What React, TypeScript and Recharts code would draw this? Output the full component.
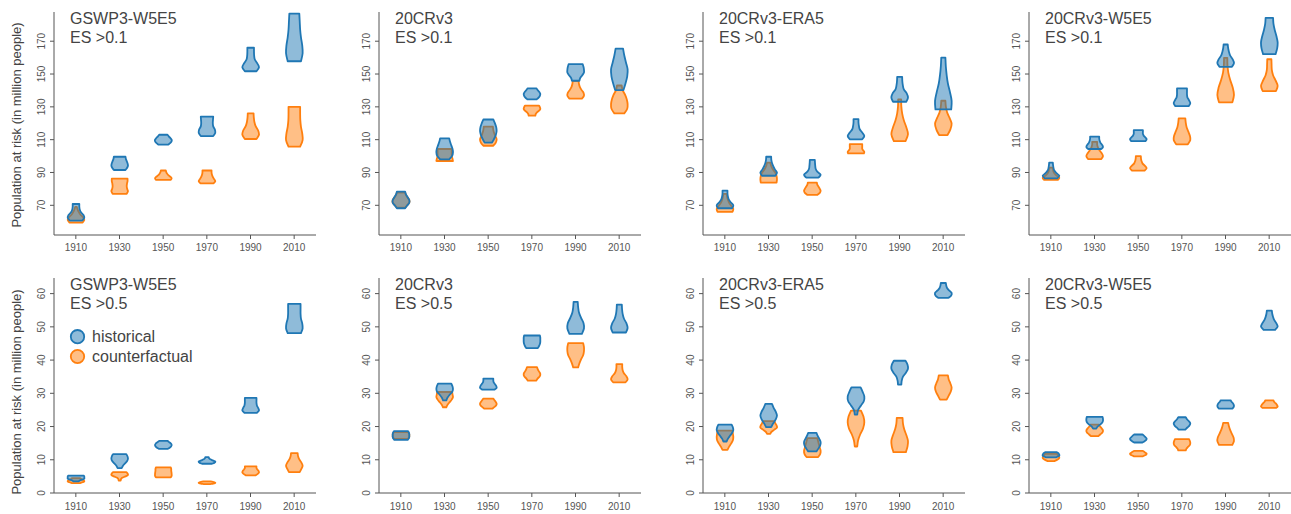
import React from 'react';
import { ComposedChart, Bar, XAxis, YAxis } from 'recharts';

const years = ['1910', '1930', '1950', '1970', '1990', '2010'];
const ticksEs01 = [70, 90, 110, 130, 150, 170];
const ticksEs05 = [0, 10, 20, 30, 40, 50, 60];
const domainEs01: [number, number] = [51.9, 187.8];
const domainEs05: [number, number] = [0, 64.7];
const datasetNames = ['GSWP3-W5E5', '20CRv3', '20CRv3-ERA5', '20CRv3-W5E5'];
const thresholdLabels = ['ES >0.1', 'ES >0.5'];
const legendLabels = ['historical', 'counterfactual'];
const yAxisTitle = 'Population at risk (in million people)';

// each violin: [min, max, relative half-widths from min up to max]
const gswp3Es01Hist = [
  [60.7, 70.8, 0.75, 1.0, 0.9, 0.6, 0.45, 0.4, 0.4],
  [91.5, 99.6, 0.7, 0.9, 1.0, 0.95, 0.85, 0.75, 0.7],
  [107, 113, 0.6, 0.85, 1.0, 1.0, 0.85, 0.65, 0.5],
  [112.2, 124, 0.75, 1.0, 0.95, 0.75, 0.7, 0.72, 0.75],
  [151.7, 166, 0.7, 1.0, 0.8, 0.5, 0.42, 0.4, 0.4],
  [157.8, 186.8, 0.8, 1.0, 0.95, 0.8, 0.7, 0.65, 0.6],
];
const gswp3Es01Cf = [
  [59.5, 69, 0.8, 1.0, 0.85, 0.55, 0.35, 0.2, 0.1],
  [77, 86.2, 0.85, 1.0, 0.9, 0.85, 0.88, 0.95, 0.95],
  [85.5, 91.2, 0.9, 1.0, 0.85, 0.6, 0.45, 0.35, 0.3],
  [83.4, 91.2, 0.8, 1.0, 0.85, 0.7, 0.6, 0.55, 0.55],
  [110.4, 126, 0.7, 1.0, 0.9, 0.6, 0.45, 0.38, 0.35],
  [105.7, 130, 0.7, 1.0, 0.95, 0.8, 0.72, 0.7, 0.7],
];
const cr3Es01Hist = [
  [68.2, 78.3, 0.5, 0.75, 1.0, 1.0, 0.8, 0.6, 0.5],
  [98, 110.8, 0.55, 0.9, 1.0, 0.95, 0.8, 0.65, 0.55],
  [108.2, 122.3, 0.45, 0.7, 0.9, 1.0, 0.95, 0.8, 0.6],
  [134.5, 141.2, 0.55, 0.8, 0.95, 1.0, 0.9, 0.7, 0.55],
  [145.9, 156, 0.45, 0.55, 0.8, 1.0, 1.0, 0.95, 0.85],
  [140.2, 165.5, 0.5, 0.75, 0.95, 1.0, 0.8, 0.6, 0.45],
];
const cr3Es01Cf = [
  [68.6, 77.8, 0.5, 0.75, 1.0, 1.0, 0.8, 0.6, 0.5],
  [97, 104.3, 1.0, 0.95, 0.88, 0.85, 0.85, 0.85, 0.85],
  [106.3, 117.9, 0.6, 0.9, 1.0, 0.85, 0.7, 0.6, 0.55],
  [124.6, 130.8, 0.4, 0.45, 0.6, 0.85, 1.0, 0.95, 0.85],
  [135, 145.7, 0.75, 1.0, 0.95, 0.7, 0.5, 0.4, 0.35],
  [126, 143, 0.6, 0.95, 1.0, 0.9, 0.7, 0.4, 0.28],
];
const era5Es01Hist = [
  [68.2, 78.9, 0.85, 1.0, 0.7, 0.45, 0.35, 0.3, 0.3],
  [88, 99.6, 0.8, 1.0, 0.75, 0.55, 0.4, 0.32, 0.3],
  [86.9, 97.7, 0.75, 1.0, 0.6, 0.4, 0.35, 0.32, 0.3],
  [110.2, 122.5, 0.75, 1.0, 0.75, 0.45, 0.35, 0.3, 0.3],
  [133.1, 148.3, 0.8, 1.0, 0.85, 0.5, 0.38, 0.32, 0.3],
  [128.4, 160, 0.95, 1.0, 0.8, 0.55, 0.4, 0.3, 0.25],
];
const era5Es01Cf = [
  [66, 77, 0.9, 1.0, 0.75, 0.5, 0.35, 0.25, 0.2],
  [83.8, 96, 0.95, 1.0, 0.95, 0.8, 0.5, 0.3, 0.2],
  [76.3, 83.8, 0.6, 0.9, 1.0, 0.9, 0.75, 0.6, 0.55],
  [101.6, 107.3, 0.95, 1.0, 0.85, 0.75, 0.75, 0.75, 0.75],
  [109.1, 134.5, 0.7, 1.0, 0.8, 0.5, 0.3, 0.2, 0.18],
  [112.8, 133.7, 0.5, 0.85, 1.0, 0.75, 0.45, 0.3, 0.25],
];
const w5e5Es01Hist = [
  [86.4, 96, 0.75, 1.0, 0.65, 0.4, 0.3, 0.25, 0.22],
  [104.3, 111.8, 0.8, 1.0, 0.9, 0.7, 0.6, 0.55, 0.55],
  [109.1, 115.8, 0.85, 1.0, 0.85, 0.65, 0.55, 0.55, 0.55],
  [130.4, 141.2, 0.8, 1.0, 0.85, 0.65, 0.6, 0.6, 0.6],
  [154.4, 168, 0.75, 1.0, 0.85, 0.55, 0.4, 0.3, 0.25],
  [162.1, 184.2, 0.75, 0.95, 1.0, 0.85, 0.65, 0.5, 0.45],
];
const w5e5Es01Cf = [
  [85.5, 93, 0.85, 1.0, 0.7, 0.45, 0.3, 0.25, 0.2],
  [98.2, 108.7, 0.8, 1.0, 0.85, 0.6, 0.4, 0.3, 0.3],
  [91.1, 100, 0.75, 1.0, 0.8, 0.5, 0.38, 0.32, 0.3],
  [107.1, 123, 0.7, 1.0, 0.95, 0.75, 0.55, 0.45, 0.4],
  [132.7, 159.9, 0.8, 1.0, 0.85, 0.55, 0.32, 0.22, 0.2],
  [139.6, 159, 0.8, 1.0, 0.75, 0.45, 0.3, 0.27, 0.25],
];
const gswp3Es05Hist = [
  [3.5, 5.2, 0.3, 0.5, 0.8, 1.0, 1.0, 1.0, 0.95],
  [7.5, 11.7, 0.25, 0.4, 0.65, 0.9, 1.0, 0.95, 0.8],
  [13.3, 15.7, 0.55, 0.8, 0.95, 1.0, 0.9, 0.7, 0.5],
  [8.8, 10.8, 0.6, 0.9, 1.0, 0.7, 0.4, 0.25, 0.2],
  [24.1, 28.6, 0.75, 1.0, 0.9, 0.75, 0.7, 0.7, 0.7],
  [48.1, 56.9, 0.8, 1.0, 0.95, 0.8, 0.75, 0.75, 0.75],
];
const gswp3Es05Cf = [
  [3.0, 4.5, 0.5, 0.8, 1.0, 0.95, 0.8, 0.6, 0.5],
  [3.7, 6.3, 0.12, 0.15, 0.3, 0.7, 1.0, 0.95, 0.8],
  [4.7, 7.7, 0.9, 1.0, 1.0, 0.98, 0.95, 0.95, 0.9],
  [2.7, 3.5, 0.4, 0.75, 0.95, 1.0, 0.9, 0.7, 0.4],
  [5.3, 8.0, 0.6, 0.85, 1.0, 0.95, 0.8, 0.7, 0.7],
  [6.3, 12.0, 0.65, 0.85, 1.0, 0.85, 0.6, 0.45, 0.4],
];
const cr3Es05Hist = [
  [16.0, 18.6, 0.8, 0.95, 1.0, 1.0, 1.0, 0.95, 0.85],
  [27.9, 32.9, 0.2, 0.35, 0.6, 0.9, 1.0, 0.95, 0.8],
  [31.1, 34.4, 0.75, 1.0, 0.95, 0.8, 0.65, 0.6, 0.6],
  [43.6, 47.4, 0.7, 0.85, 0.95, 1.0, 1.0, 1.0, 0.95],
  [47.9, 57.5, 0.75, 1.0, 0.95, 0.65, 0.4, 0.3, 0.25],
  [48.3, 56.7, 0.8, 1.0, 0.85, 0.55, 0.4, 0.33, 0.3],
];
const cr3Es05Cf = [
  [16.3, 18.3, 0.8, 0.95, 1.0, 1.0, 1.0, 0.95, 0.85],
  [25.8, 30.4, 0.2, 0.35, 0.6, 0.85, 1.0, 0.95, 0.9],
  [25.4, 28.4, 0.5, 0.75, 0.95, 1.0, 0.9, 0.75, 0.6],
  [33.8, 37.9, 0.5, 0.7, 0.95, 1.0, 0.85, 0.7, 0.6],
  [37.8, 45.1, 0.3, 0.45, 0.65, 0.9, 1.0, 1.0, 0.9],
  [33.3, 38.8, 0.75, 1.0, 0.85, 0.55, 0.4, 0.35, 0.35],
];
const era5Es05Hist = [
  [15.5, 20.6, 0.2, 0.35, 0.6, 0.85, 1.0, 0.95, 0.8],
  [19.8, 26.8, 0.3, 0.55, 0.85, 1.0, 0.85, 0.6, 0.4],
  [12.5, 18.1, 0.5, 0.75, 0.95, 1.0, 0.85, 0.65, 0.5],
  [23.6, 31.8, 0.15, 0.25, 0.6, 0.95, 1.0, 0.8, 0.55],
  [32.6, 39.8, 0.2, 0.25, 0.4, 0.75, 1.0, 0.95, 0.7],
  [58.7, 63.2, 0.6, 0.95, 1.0, 0.7, 0.45, 0.35, 0.3],
];
const era5Es05Cf = [
  [13.0, 18.8, 0.3, 0.5, 0.75, 0.95, 1.0, 0.95, 0.9],
  [17.8, 21.6, 0.2, 0.35, 0.7, 1.0, 0.95, 0.8, 0.7],
  [10.8, 16.5, 0.7, 0.95, 1.0, 0.9, 0.8, 0.7, 0.6],
  [14.0, 24.8, 0.15, 0.25, 0.5, 0.85, 1.0, 0.9, 0.6],
  [12.3, 22.6, 0.75, 0.95, 1.0, 0.8, 0.55, 0.4, 0.35],
  [28.1, 35.4, 0.4, 0.65, 0.9, 1.0, 0.85, 0.65, 0.55],
];
const w5e5Es05Hist = [
  [10.7, 12.3, 0.6, 0.85, 1.0, 1.0, 0.95, 0.85, 0.7],
  [19.4, 22.9, 0.2, 0.35, 0.65, 0.9, 1.0, 1.0, 0.95],
  [15.2, 17.6, 0.5, 0.75, 0.95, 1.0, 0.85, 0.7, 0.5],
  [19.1, 22.8, 0.4, 0.65, 0.9, 1.0, 0.85, 0.6, 0.45],
  [25.4, 27.9, 0.8, 0.95, 1.0, 0.95, 0.85, 0.7, 0.6],
  [49.1, 54.9, 0.7, 1.0, 0.85, 0.6, 0.45, 0.35, 0.3],
];
const w5e5Es05Cf = [
  [9.6, 11.8, 0.4, 0.7, 0.95, 1.0, 0.9, 0.8, 0.7],
  [17.1, 20.6, 0.45, 0.7, 0.95, 1.0, 0.85, 0.65, 0.5],
  [11.0, 12.7, 0.5, 0.75, 0.95, 1.0, 0.85, 0.7, 0.5],
  [12.8, 16.2, 0.45, 0.55, 0.75, 0.95, 1.0, 0.95, 0.85],
  [14.5, 21.1, 0.8, 1.0, 0.95, 0.75, 0.55, 0.4, 0.3],
  [25.6, 27.9, 0.8, 1.0, 0.95, 0.85, 0.7, 0.55, 0.5],
];

const HIST = { stroke: '#1f77b4', fill: 'rgba(31,119,180,0.5)' };
const CF = { stroke: '#ff7f0e', fill: 'rgba(255,127,14,0.5)' };
const AXIS = '#555555';
const TEXT = '#444444';
const FONT = '"Liberation Sans", Arial, Helvetica, sans-serif';
const HALF = 8.3;

const colAxisX = [54, 379, 703, 1029];
const PLOT_W = 262;
const rowGeom = [
  { top: 0, marginTop: 12, height: 255 },
  { top: 257, marginTop: 21, height: 256 },
];

function spline(p: number[][]): string {
  let s = '';
  for (let i = 0; i < p.length - 1; i++) {
    const p0 = p[Math.max(0, i - 1)];
    const p1 = p[i];
    const p2 = p[i + 1];
    const p3 = p[Math.min(p.length - 1, i + 2)];
    const c1 = [p1[0] + (p2[0] - p0[0]) / 6, p1[1] + (p2[1] - p0[1]) / 6];
    const c2 = [p2[0] - (p3[0] - p1[0]) / 6, p2[1] - (p3[1] - p1[1]) / 6];
    s += ` C${c1[0].toFixed(2)},${c1[1].toFixed(2)} ${c2[0].toFixed(2)},${c2[1].toFixed(2)} ${p2[0].toFixed(2)},${p2[1].toFixed(2)}`;
  }
  return s;
}

function violinPath(cx: number, yLo: number, yHi: number, w: number[]): string {
  const n = w.length;
  const pts = w.map((wi, k) => ({ y: yLo + ((yHi - yLo) * k) / (n - 1), h: wi * HALF }));
  const right = pts.map((p) => [cx + p.h, p.y]);
  const left = pts.slice().reverse().map((p) => [cx - p.h, p.y]);
  let d = `M${(cx - pts[0].h).toFixed(2)},${pts[0].y.toFixed(2)} L${right[0][0].toFixed(2)},${right[0][1].toFixed(2)}`;
  d += spline(right);
  d += ` L${left[0][0].toFixed(2)},${left[0][1].toFixed(2)}`;
  d += spline(left);
  return d + ' Z';
}

const ViolinPair = (props: any) => {
  const { x, y, width, height, payload } = props;
  if (!payload || x == null || y == null) return null;
  const cx = x + width / 2;
  const top = Math.min(y, y + height);
  const bot = Math.max(y, y + height);
  const [lo, hi] = payload.span;
  const k = (bot - top) / (hi - lo);
  const py = (v: number) => bot - (v - lo) * k;
  const pathOf = (v: number[]) => violinPath(cx, py(v[0]), py(v[1]), v.slice(2));
  return (
    <g>
      <path d={pathOf(payload.cf)} fill={CF.fill} stroke={CF.stroke} strokeWidth={1.8} strokeLinejoin="round" />
      <path d={pathOf(payload.hist)} fill={HIST.fill} stroke={HIST.stroke} strokeWidth={1.8} strokeLinejoin="round" />
    </g>
  );
};

const YTick = (props: any) => {
  const { x, y, payload } = props;
  const tx = x - 2;
  return (
    <text x={tx} y={y} transform={`rotate(-90 ${tx} ${y})`} textAnchor="middle" fontSize={10} fill={AXIS} fontFamily={FONT}>
      {payload.value}
    </text>
  );
};

function buildRows(hist: number[][], cf: number[][]) {
  return years.map((year, i) => ({
    year,
    span: [Math.min(hist[i][0], cf[i][0]), Math.max(hist[i][1], cf[i][1])],
    hist: hist[i],
    cf: cf[i],
  }));
}

const panels = [
  { row: 0, col: 0, hist: gswp3Es01Hist, cf: gswp3Es01Cf },
  { row: 0, col: 1, hist: cr3Es01Hist, cf: cr3Es01Cf },
  { row: 0, col: 2, hist: era5Es01Hist, cf: era5Es01Cf },
  { row: 0, col: 3, hist: w5e5Es01Hist, cf: w5e5Es01Cf },
  { row: 1, col: 0, hist: gswp3Es05Hist, cf: gswp3Es05Cf },
  { row: 1, col: 1, hist: cr3Es05Hist, cf: cr3Es05Cf },
  { row: 1, col: 2, hist: era5Es05Hist, cf: era5Es05Cf },
  { row: 1, col: 3, hist: w5e5Es05Hist, cf: w5e5Es05Cf },
];

function Panel({ row, col, hist, cf }: any) {
  const g = rowGeom[row];
  const left = colAxisX[col] - 54;
  return (
    <div style={{ position: 'absolute', left, top: g.top, width: 54 + PLOT_W, height: g.height }}>
      <ComposedChart
        width={54 + PLOT_W}
        height={g.height}
        data={buildRows(hist, cf)}
        margin={{ top: g.marginTop, right: 0, bottom: 0, left: 0 }}
      >
        <XAxis
          dataKey="year"
          interval={0}
          height={20}
          tickSize={4}
          tickMargin={row === 0 ? 5 : 6}
          axisLine={{ stroke: AXIS, strokeWidth: 1 }}
          tickLine={{ stroke: AXIS, strokeWidth: 1 }}
          tick={{ fontSize: 10, fill: AXIS, fontFamily: FONT }}
        />
        <YAxis
          type="number"
          width={54}
          domain={row === 0 ? domainEs01 : domainEs05}
          ticks={row === 0 ? ticksEs01 : ticksEs05}
          allowDataOverflow
          tickSize={4}
          tickMargin={3}
          axisLine={{ stroke: AXIS, strokeWidth: 1 }}
          tickLine={{ stroke: AXIS, strokeWidth: 1 }}
          tick={<YTick />}
        />
        <Bar dataKey="span" barSize={18} shape={<ViolinPair />} isAnimationActive={false} />
      </ComposedChart>
    </div>
  );
}

export default function App() {
  const plotTops = [12, 278];
  return (
    <div
      style={{
        position: 'absolute',
        left: 0,
        top: 0,
        width: 1291,
        height: 514,
        overflow: 'hidden',
        background: '#ffffff',
        fontFamily: FONT,
      }}
    >
      {panels.map((p) => (
        <Panel key={`${p.row}-${p.col}`} {...p} />
      ))}
      <svg
        width={1291}
        height={514}
        style={{ position: 'absolute', left: 0, top: 0, pointerEvents: 'none' }}
        fontFamily={FONT}
      >
        {panels.map((p) => {
          const tx = colAxisX[p.col] + 16;
          const ty = plotTops[p.row];
          return (
            <g key={`t-${p.row}-${p.col}`}>
              <text x={tx} y={ty + 12.4} fontSize={16} fill={TEXT}>
                {datasetNames[p.col]}
              </text>
              <text x={tx} y={ty + 31.3} fontSize={16} fill={TEXT}>
                {thresholdLabels[p.row]}
              </text>
            </g>
          );
        })}
        <text x={21} y={125} transform="rotate(-90 21 125)" textAnchor="middle" fontSize={13} fill={TEXT}>
          {yAxisTitle}
        </text>
        <text x={21} y={392} transform="rotate(-90 21 392)" textAnchor="middle" fontSize={13} fill={TEXT}>
          {yAxisTitle}
        </text>
        <circle cx={77.5} cy={336.7} r={6.7} fill={HIST.fill} stroke={HIST.stroke} strokeWidth={1.8} />
        <text x={92} y={342.3} fontSize={16} fill={TEXT}>
          {legendLabels[0]}
        </text>
        <circle cx={77.5} cy={356.5} r={6.7} fill={CF.fill} stroke={CF.stroke} strokeWidth={1.8} />
        <text x={92} y={361.8} fontSize={16} fill={TEXT}>
          {legendLabels[1]}
        </text>
      </svg>
    </div>
  );
}
